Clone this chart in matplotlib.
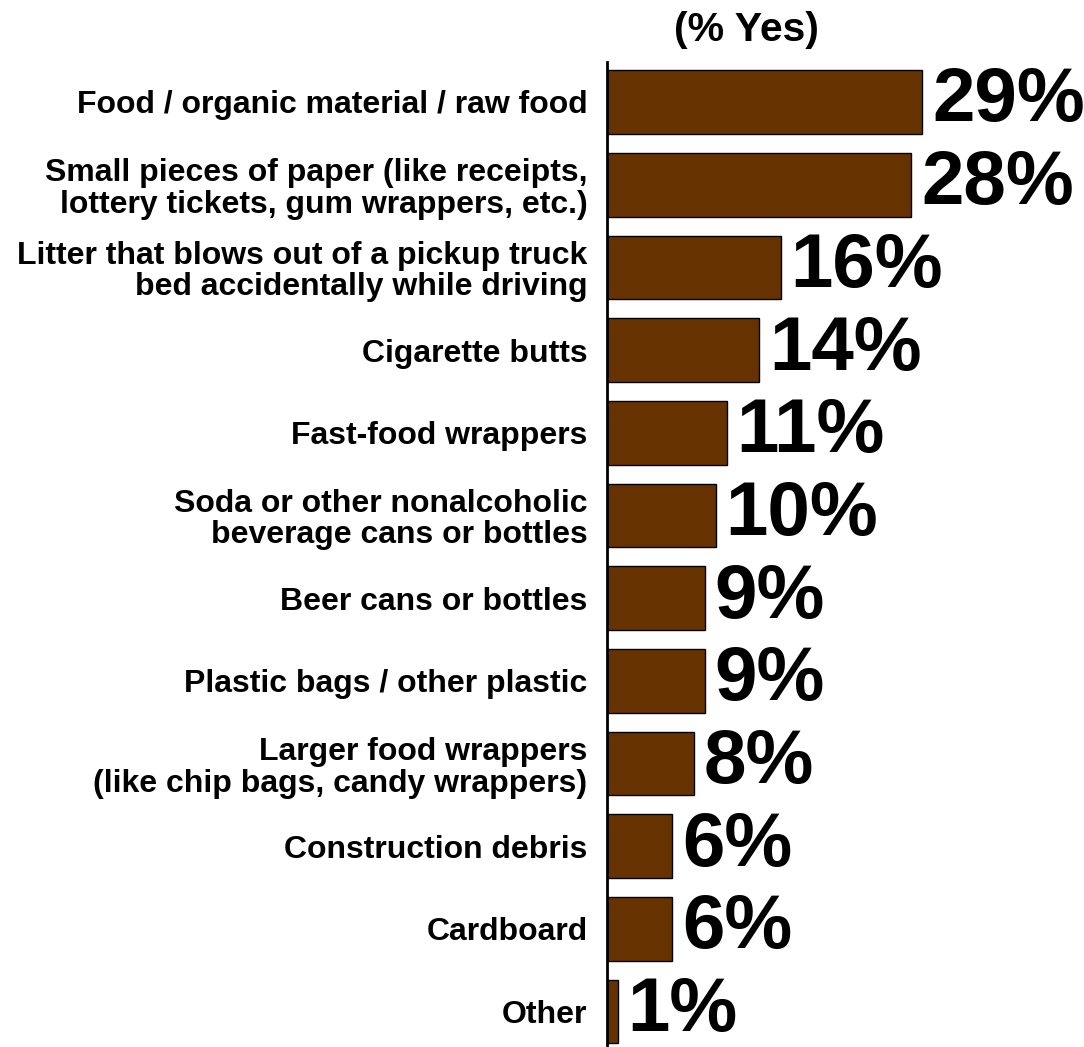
import matplotlib
matplotlib.use('Agg')
import matplotlib.pyplot as plt

# Datos del gráfico
categorias = [
    'Food / organic material / raw food',
    'Small pieces of paper (like receipts,\nlottery tickets, gum wrappers, etc.)',
    'Litter that blows out of a pickup truck\nbed accidentally while driving',
    'Cigarette butts',
    'Fast-food wrappers',
    'Soda or other nonalcoholic\nbeverage cans or bottles',
    'Beer cans or bottles',
    'Plastic bags / other plastic',
    'Larger food wrappers\n(like chip bags, candy wrappers)',
    'Construction debris',
    'Cardboard',
    'Other',
]
valores = [29, 28, 16, 14, 11, 10, 9, 9, 8, 6, 6, 1]

plt.rcParams['font.family'] = ['Liberation Sans', 'DejaVu Sans']
plt.rcParams['font.weight'] = 'bold'

fig = plt.figure(figsize=(10.84, 10.47), dpi=100)
ax = fig.add_axes([0.560, 0.0, 0.431, 0.9408])

posiciones = list(range(len(categorias)))
ax.barh(posiciones, valores, height=0.77, color='#663300',
        edgecolor='black', linewidth=1.0)

for i, v in enumerate(valores):
    ax.text(v + 0.9, i, f'{v}%', va='center', ha='left',
            fontsize=55, fontweight='bold', color='black')

ax.set_xlim(0, 43)
ax.set_ylim(11.43, -0.484)

ax.set_yticks(posiciones)
ax.set_yticklabels(categorias, fontsize=23, fontweight='bold', linespacing=1.07)
ax.tick_params(axis='y', length=0, pad=14)
ax.set_xticks([])

for lado in ['top', 'right', 'bottom']:
    ax.spines[lado].set_visible(False)
ax.spines['left'].set_linewidth(2)

fig.text(746 / 1084, 1 - 30 / 1047, '(% Yes)', ha='center', va='center',
         fontsize=29.5, fontweight='bold')

fig.savefig('out.png', dpi=100)
